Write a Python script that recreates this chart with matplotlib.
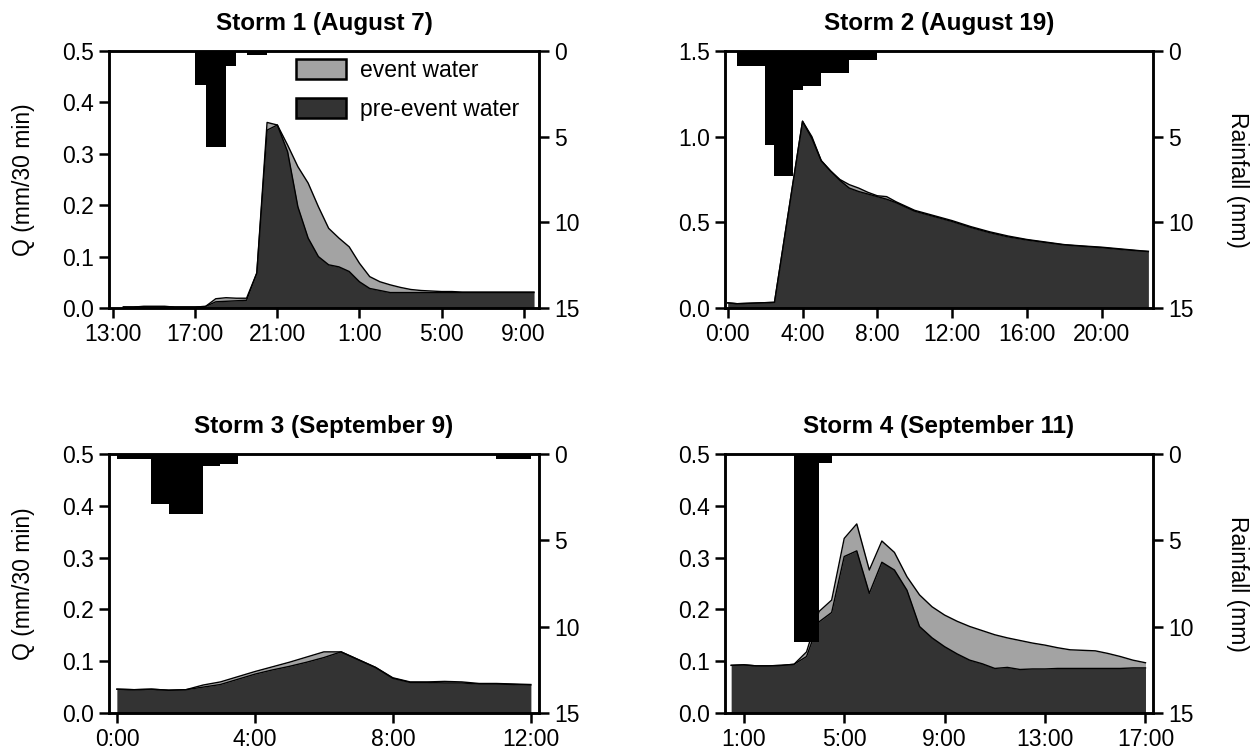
import numpy as np
import matplotlib
matplotlib.use("Agg")
import matplotlib.pyplot as plt
from matplotlib.patches import Patch
from matplotlib.ticker import FormatStrFormatter

plt.rcParams["font.family"] = ["Liberation Sans", "DejaVu Sans"]

EVENT_COLOR = "#a3a3a3"
PRE_COLOR = "#333333"

# ---- Storm 1 (August 7): hours from midnight of Aug 7, half-hourly Q
s1_time = np.arange(13.5, 33.51, 0.5)
s1_total = [0.002, 0.002, 0.003, 0.003, 0.003, 0.002, 0.002, 0.002, 0.003,
            0.018, 0.020, 0.019, 0.019, 0.068, 0.361, 0.356, 0.317, 0.275,
            0.243, 0.197, 0.155, 0.136, 0.119, 0.087, 0.061, 0.051, 0.045,
            0.040, 0.036, 0.034, 0.033, 0.032, 0.032, 0.031, 0.031, 0.031,
            0.031, 0.031, 0.031, 0.031, 0.031]
s1_pre = [0.002, 0.002, 0.003, 0.003, 0.003, 0.002, 0.002, 0.002, 0.003,
          0.012, 0.013, 0.014, 0.015, 0.068, 0.346, 0.356, 0.304, 0.197,
          0.136, 0.100, 0.084, 0.080, 0.071, 0.051, 0.038, 0.034, 0.030,
          0.030, 0.030, 0.030, 0.030, 0.030, 0.030, 0.030, 0.030, 0.030,
          0.030, 0.030, 0.030, 0.030, 0.030]
s1_rain_start = [17.0, 17.5, 18.0, 18.5, 19.5, 20.0]
s1_rain = [2.0, 5.6, 5.6, 0.85, 0.23, 0.23]
s1_ticks = [13, 17, 21, 25, 29, 33]
s1_ticklabels = ["13:00", "17:00", "21:00", "1:00", "5:00", "9:00"]

# ---- Storm 2 (August 19)
s2_time = [0.0, 0.5, 2.5, 4.0, 4.5, 5.0, 5.5, 6.0, 6.5, 7.0, 7.5, 8.0, 8.5,
           9.0, 10.0, 11.0, 12.0, 13.0, 14.0, 15.0, 16.0, 17.0, 18.0, 19.0,
           20.0, 21.0, 22.0, 22.5]
s2_total = [0.030, 0.025, 0.033, 1.09, 1.00, 0.86, 0.80, 0.75, 0.72, 0.70,
            0.675, 0.655, 0.650, 0.620, 0.570, 0.540, 0.510, 0.475, 0.445,
            0.420, 0.400, 0.385, 0.370, 0.362, 0.355, 0.345, 0.335, 0.330]
s2_pre = [0.030, 0.025, 0.033, 1.09, 0.99, 0.86, 0.80, 0.745, 0.70, 0.68,
          0.665, 0.650, 0.635, 0.615, 0.565, 0.535, 0.505, 0.470, 0.440,
          0.415, 0.397, 0.382, 0.368, 0.360, 0.352, 0.342, 0.333, 0.330]
s2_rain_start = [0.5, 1.0, 1.5, 2.0, 2.5, 3.0, 3.5, 4.0, 4.5, 5.0, 5.5, 6.0,
                 6.5, 7.0, 7.5]
s2_rain = [0.9, 0.9, 0.9, 5.5, 7.3, 7.3, 2.3, 2.07, 2.07, 1.29, 1.29, 1.29,
           0.5, 0.5, 0.5]
s2_ticks = [0, 4, 8, 12, 16, 20]
s2_ticklabels = ["0:00", "4:00", "8:00", "12:00", "16:00", "20:00"]

# ---- Storm 3 (September 9)
s3_time = np.arange(0.0, 12.01, 0.5)
s3_total = [0.046, 0.045, 0.046, 0.044, 0.045, 0.054, 0.060, 0.070, 0.080,
            0.089, 0.098, 0.108, 0.118, 0.118, 0.103, 0.088, 0.068, 0.060,
            0.060, 0.061, 0.060, 0.057, 0.057, 0.056, 0.055]
s3_pre = [0.046, 0.045, 0.046, 0.044, 0.045, 0.050, 0.055, 0.065, 0.075,
          0.083, 0.090, 0.098, 0.107, 0.118, 0.103, 0.088, 0.067, 0.059,
          0.059, 0.058, 0.058, 0.056, 0.056, 0.055, 0.054]
s3_rain_start = [0.0, 0.5, 1.0, 1.5, 2.0, 2.5, 3.0, 11.0, 11.5]
s3_rain = [0.3, 0.3, 2.9, 3.5, 3.5, 0.7, 0.6, 0.3, 0.3]
s3_ticks = [0, 4, 8, 12]
s3_ticklabels = ["0:00", "4:00", "8:00", "12:00"]

# ---- Storm 4 (September 11)
s4_time = np.arange(0.5, 17.01, 0.5)
s4_total = [0.092, 0.093, 0.091, 0.091, 0.092, 0.094, 0.118, 0.196, 0.218,
            0.337, 0.365, 0.276, 0.332, 0.310, 0.263, 0.228, 0.205, 0.189,
            0.177, 0.167, 0.159, 0.151, 0.145, 0.140, 0.135, 0.131, 0.126,
            0.122, 0.121, 0.120, 0.115, 0.109, 0.102, 0.097]
s4_pre = [0.092, 0.093, 0.091, 0.091, 0.092, 0.094, 0.109, 0.176, 0.194,
          0.302, 0.313, 0.231, 0.291, 0.276, 0.237, 0.167, 0.145, 0.128,
          0.114, 0.102, 0.095, 0.086, 0.088, 0.084, 0.085, 0.085, 0.086,
          0.086, 0.086, 0.086, 0.086, 0.086, 0.087, 0.087]
s4_rain_start = [3.0, 3.5, 4.0]
s4_rain = [10.9, 10.9, 0.5]
s4_ticks = [1, 5, 9, 13, 17]
s4_ticklabels = ["1:00", "5:00", "9:00", "13:00", "17:00"]


def style_axis(ax):
    for spine in ax.spines.values():
        spine.set_linewidth(1.8)
    ax.tick_params(direction="out", length=7.5, width=1.8, labelsize=16.5, pad=3.5)


def storm_panel(rect, title, time, total, pre, rain_start, rain, xlim,
                ticks, ticklabels, qmax, qstep, left_label, right_label):
    ax = fig.add_axes(rect)
    ax.fill_between(time, 0, total, color=EVENT_COLOR, lw=0)
    ax.fill_between(time, 0, pre, color=PRE_COLOR, lw=0)
    ax.plot(time, total, color="black", lw=1.0)
    ax.plot(time, pre, color="black", lw=1.0)
    ax.set_xlim(*xlim)
    ax.set_ylim(0, qmax)
    ax.set_yticks(np.arange(0, qmax + 1e-9, qstep))
    ax.yaxis.set_major_formatter(FormatStrFormatter("%.1f"))
    ax.set_xticks(ticks)
    ax.set_xticklabels(ticklabels)
    ax.set_title(title, fontsize=17.5, fontweight="bold", pad=15)
    style_axis(ax)
    if left_label:
        ax.set_ylabel("Q (mm/30 min)", fontsize=16.5, labelpad=19)

    # rainfall hangs from the top on an inverted right axis
    ax2 = ax.twinx()
    ax2.bar(rain_start, rain, width=0.5, align="edge", color="black", lw=0)
    ax2.set_ylim(15, 0)
    ax2.set_yticks([0, 5, 10, 15])
    ax2.set_xlim(*xlim)
    style_axis(ax2)
    if right_label:
        ax2.set_ylabel("Rainfall (mm)", fontsize=16.5, rotation=270, labelpad=40)
    return ax, ax2


fig = plt.figure(figsize=(12.56, 7.51), dpi=100)

storm_panel([0.0868, 0.5899, 0.3424, 0.3422], "Storm 1 (August 7)",
            s1_time, s1_total, s1_pre, s1_rain_start, s1_rain,
            (12.8, 33.75), s1_ticks, s1_ticklabels, 0.5, 0.1, True, False)
storm_panel([0.5772, 0.5899, 0.3408, 0.3422], "Storm 2 (August 19)",
            s2_time, s2_total, s2_pre, s2_rain_start, s2_rain,
            (-0.15, 22.75), s2_ticks, s2_ticklabels, 1.5, 0.5, False, True)
storm_panel([0.0868, 0.0506, 0.3424, 0.3449], "Storm 3 (September 9)",
            s3_time, s3_total, s3_pre, s3_rain_start, s3_rain,
            (-0.23, 12.24), s3_ticks, s3_ticklabels, 0.5, 0.1, True, False)
storm_panel([0.5772, 0.0506, 0.3408, 0.3449], "Storm 4 (September 11)",
            s4_time, s4_total, s4_pre, s4_rain_start, s4_rain,
            (0.25, 17.3), s4_ticks, s4_ticklabels, 0.5, 0.1, False, True)

handles = [Patch(facecolor=EVENT_COLOR, edgecolor="black", lw=1.8),
           Patch(facecolor=PRE_COLOR, edgecolor="black", lw=1.8)]
fig.legend(handles, ["event water", "pre-event water"], loc="upper left",
           bbox_to_anchor=(296 / 1256, 1 - 59 / 751), frameon=False,
           fontsize=16.5, handlelength=2.2, handleheight=0.95, handletextpad=0.6,
           labelspacing=0.7, borderpad=0, borderaxespad=0)

fig.savefig("out.png", dpi=100)
